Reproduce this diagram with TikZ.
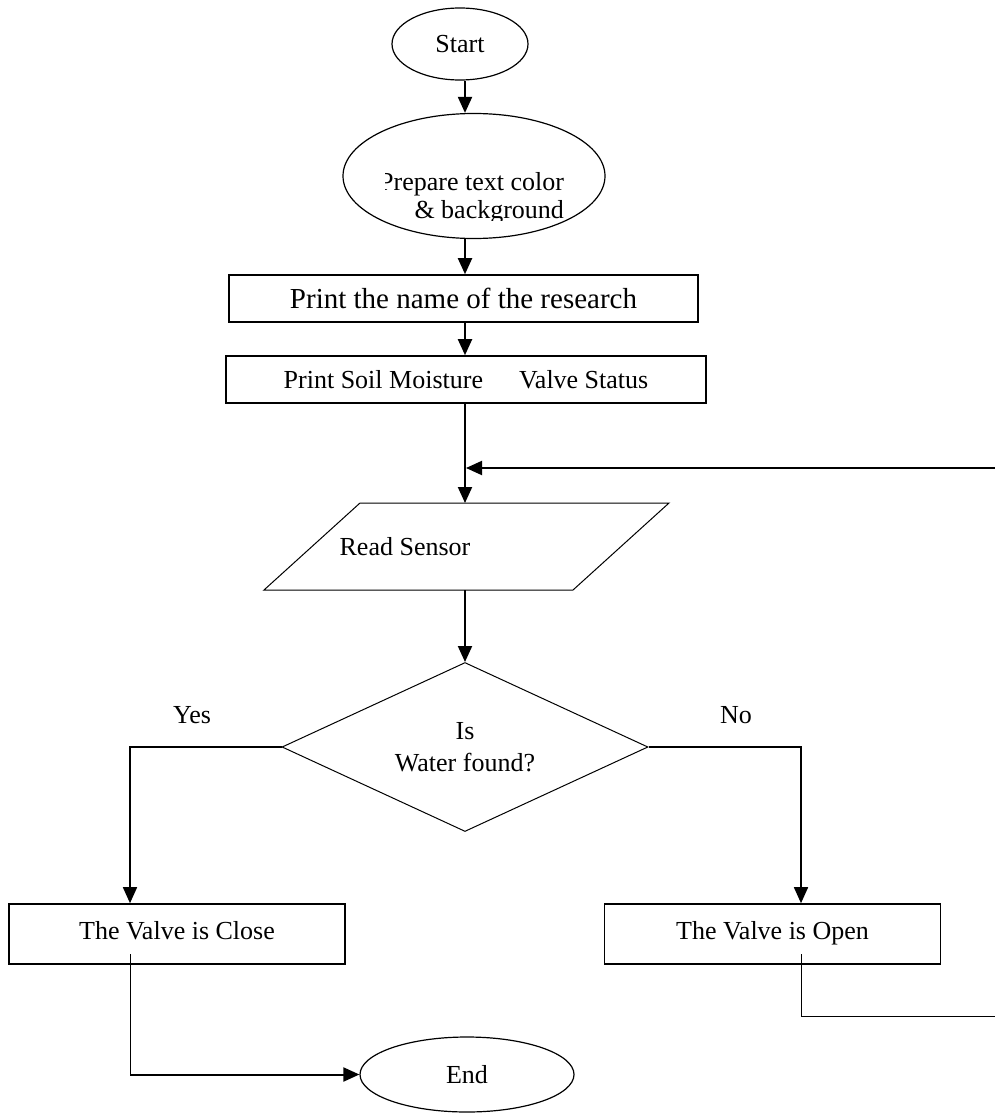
\documentclass[tikz,border=0pt]{standalone}
\usepackage{fontspec}
\setmainfont{Liberation Serif}
\usetikzlibrary{arrows.meta,shapes.geometric}

\begin{document}
\begin{tikzpicture}[x=0.5pt,y=-0.5pt,->,>={Triangle[length=8pt,width=7pt]},
  line width=1pt,font=\fontsize{13}{16}\selectfont,
  term node/.style={ellipse,draw,line width=0.6pt,inner sep=0pt},
  proc node/.style={rectangle,draw,line width=0.8pt,inner sep=0pt,minimum height=23.5pt},
  case node/.style={rectangle,draw,line width=0.8pt,inner sep=0pt,minimum width=168pt,minimum height=30pt,text height=9pt,text depth=4pt},
  test node/.style={diamond,draw,line width=0.5pt,inner sep=0pt,align=center,aspect=2.17},
  thin link/.style={-,line width=0.5pt}]

  \useasboundingbox (0,0) rectangle (995,1113);

  \node[term node,minimum width=68pt,minimum height=36pt] (start) at (460,44) {Start};
  \node[term node,minimum width=131pt,minimum height=62.5pt] (prep) at (474,176) {};
  \begin{scope}
    \clip (385,120) rectangle (600,220);
    \node[align=right,anchor=east,inner sep=0pt,font=\fontsize{13}{14}\selectfont] (preptext) at (565,198) {Prepare text color\\ \& background};
  \end{scope}
  \node[proc node,minimum width=234.5pt,font=\fontsize{14.5}{17}\selectfont] (name) at (463.5,298.5) {Print the name of the research};
  \node[proc node,minimum width=240pt] (soil) at (466,379.5) {Print Soil Moisture \hspace{11.5pt} Valve Status};
  % input box
  \draw[-,line width=0.5pt] (360,503) -- (669,503) -- (573,590) -- (264,590) -- cycle;
  \node[anchor=base] (read) at (405,555) {Read Sensor};
  \node[test node,minimum width=183pt,minimum height=84.5pt] (test) at (465,747) {Is\\Water found?};
  \node[anchor=base] (yes) at (192,723) {Yes};
  \node[anchor=base] (no) at (736,723) {No};
  \node[case node] (close) at (177,934) {The Valve is Close};
  \node[case node] (open) at (772.5,934) {The Valve is Open};
  \node[term node,minimum width=107pt,minimum height=37.5pt] (end) at (467,1074.5) {End};

  \coordinate (spine) at (465,0);
  \coordinate (yescol) at (130,0);
  \coordinate (nocol) at (801,0);
  \coordinate (readin) at (465,503);
  \coordinate (readout) at (465,590);
  \coordinate (merge) at (466,468);
  \coordinate (closeout) at (130,954);
  \coordinate (openout) at (801,954);
  \coordinate (loopcorner) at (1000,1016);

  \path
    (start.south -| spine) edge (prep.north -| spine)
    (prep.south -| spine) edge (name.north -| spine)
    (name.south -| spine) edge (soil.north -| spine)
    (soil.south -| spine) edge (readin)
    (readout) edge (test.north);

  % yes / no
  \draw[line width=0.8pt] (test.west) -| (yescol |- close.north);
  \draw[line width=0.8pt] (test.east) -| (nocol |- open.north);

  \draw[thin link] (closeout) -- (closeout |- end.west);
  \draw (closeout |- end.west) -- (end.west);

  % back to the sensor
  \draw[thin link] (openout) |- (loopcorner);
  \draw (loopcorner) |- (merge);
\end{tikzpicture}
\end{document}
